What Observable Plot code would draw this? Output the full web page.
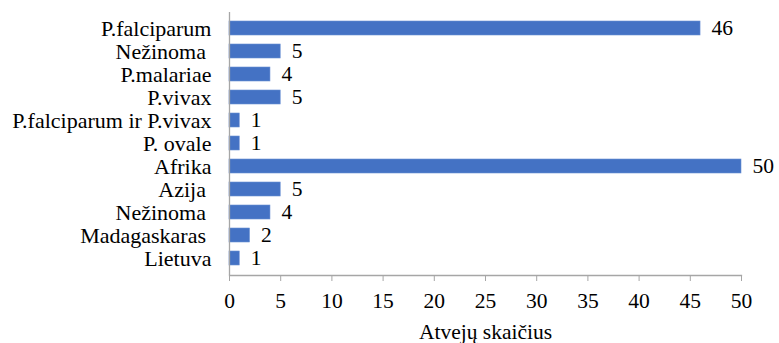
<!DOCTYPE html>
<html>
<head>
<meta charset="utf-8">
<script src="https://cdn.jsdelivr.net/npm/d3@7"></script>
<script src="https://cdn.jsdelivr.net/npm/@observablehq/plot@0.6"></script>
<style>
  body { margin: 0; background: #fff; }
</style>
</head>
<body>
<div id="chart"></div>
<script>
const categories = ["P.falciparum", "Nežinoma ", "P.malariae", "P.vivax", "P.falciparum ir P.vivax", "P. ovale", "Afrika", "Azija ", "Nežinoma ", "Madagaskaras ", "Lietuva"];
const values = [46, 5, 4, 5, 1, 1, 50, 5, 4, 2, 1];
const xTicks = [0, 5, 10, 15, 20, 25, 30, 35, 40, 45, 50];
const xLabel = "Atvejų skaičius";

const data = categories.map((c, i) => ({idx: i, name: c, value: values[i]}));
const FF = "Liberation Serif";
const FS = 21.5;

const chart = Plot.plot({
  width: 779,
  height: 343,
  marginLeft: 229,
  marginRight: 38,
  marginTop: 12,
  marginBottom: 68,
  style: {fontSize: FS + "px", fontFamily: FF, color: "#000", background: "#fff"},
  x: {domain: [0, 50]},
  y: {domain: d3.range(categories.length), paddingInner: 0.37, paddingOuter: 0.185},
  marks: [
    Plot.barX(data, {x: "value", y: "idx", fill: "#4472C4", stroke: "#6a8fd4", strokeWidth: 0.6}),
    Plot.text(data, {x: "value", y: "idx", text: d => String(d.value), textAnchor: "start", dx: 11, fontSize: FS, fontFamily: FF, fill: "#000"}),
    Plot.ruleX([0], {stroke: "#a6a6a6", strokeWidth: 1.3}),
    Plot.frame({anchor: "bottom", stroke: "#a6a6a6", strokeWidth: 1.3}),
    Plot.axisY({tickSize: 0, tickPadding: 18, tickFormat: i => categories[i], fontSize: 22, fontFamily: FF, label: null}),
    Plot.axisX({ticks: xTicks, tickSize: 6, tickPadding: 11, stroke: "#a6a6a6", fontSize: FS, fontFamily: FF, label: null, tickFormat: d => String(d)}),
    Plot.text([xLabel], {frameAnchor: "bottom", lineAnchor: "middle", dy: 57, fontSize: FS, fontFamily: FF, fill: "#000"})
  ]
});
chart.setAttribute("font-family", FF);
document.getElementById("chart").appendChild(chart);
</script>
</body>
</html>
